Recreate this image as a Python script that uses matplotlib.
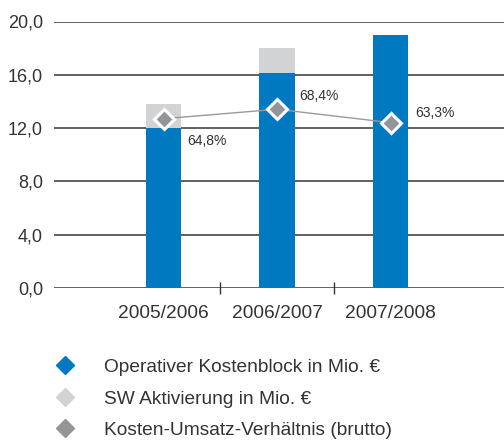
import numpy as np
import matplotlib.pyplot as plt
from matplotlib.lines import Line2D
from matplotlib.ticker import FuncFormatter

plt.rcParams['font.family'] = ['Liberation Sans', 'DejaVu Sans']

# data
years = ['2005/2006', '2006/2007', '2007/2008']
kostenblock = [12.0, 16.1, 19.0]      # Operativer Kostenblock in Mio. EUR
sw_aktivierung = [1.8, 1.9, 0.0]      # SW Aktivierung in Mio. EUR
ratio = [64.8, 68.4, 63.3]            # Kosten-Umsatz-Verhaeltnis in %
ratio_labels = ['64,8%', '68,4%', '63,3%']
yticks = [0, 4, 8, 12, 16, 20]

blue = '#0079c1'
light = '#d1d3d4'
dgray = '#939598'
txt = '#333333'

fig = plt.figure(figsize=(5.04, 4.41), dpi=100)
ax = fig.add_axes([54 / 504, 1 - 288 / 441, 450 / 504, (288 - 21.5) / 441])

x = np.arange(len(years))
ax.bar(x, kostenblock, width=0.31, color=blue, zorder=3)
ax.bar(x, sw_aktivierung, width=0.31, bottom=kostenblock, color=light, zorder=3)

ax.set_xlim(-0.965, 3.0)
ax.set_ylim(0, 20)
ax.set_yticks(yticks)
ax.yaxis.set_major_formatter(FuncFormatter(lambda v, p: f'{v:.1f}'.replace('.', ',')))
for v in yticks:
    ax.axhline(v, color='#363636', lw=1.1, zorder=1)

for s in ax.spines.values():
    s.set_visible(False)
ax.tick_params(axis='y', length=0, pad=8, labelsize=13, labelcolor=txt)
ax.set_xticks(x)
ax.set_xticklabels(years)
ax.tick_params(axis='x', which='major', length=0, pad=12, labelsize=13.8, labelcolor=txt)
ax.set_xticks([0.5, 1.5], minor=True)
ax.tick_params(axis='x', which='minor', length=8, direction='inout', width=1, color='#363636')

# ratio line on a hidden secondary axis
ax2 = ax.twinx()
ax2.set_ylim(0, 102)
ax2.set_axis_off()
ax2.plot(x, ratio, color='#9a9a9a', lw=1, zorder=4)
ax2.plot(x, ratio, 'D', color=dgray, markersize=10, markeredgecolor='white',
         markeredgewidth=2.2, zorder=5)
offsets = [(24, -22), (22, 13), (25, 10)]
for xi, r, lab, off in zip(x, ratio, ratio_labels, offsets):
    ax2.annotate(lab, (xi, r), xytext=off, textcoords='offset pixels',
                 ha='left', va='center', fontsize=10, color=txt)

# legend
handles = [
    Line2D([], [], ls='none', marker='D', markersize=9, color=blue),
    Line2D([], [], ls='none', marker='D', markersize=9, color=light),
    Line2D([], [], ls='none', marker='D', markersize=9, color=dgray),
]
labels = ['Operativer Kostenblock in Mio. €', 'SW Aktivierung in Mio. €',
          'Kosten-Umsatz-Verhältnis (brutto)']
leg = fig.legend(handles, labels, loc='upper left', bbox_to_anchor=(44 / 504, 1 - 349 / 441),
                 frameon=False, fontsize=13.8, handletextpad=1.45, labelspacing=0.74,
                 handlelength=1.2, borderpad=0)
for t in leg.get_texts():
    t.set_color(txt)

fig.savefig('out.png', dpi=100)
